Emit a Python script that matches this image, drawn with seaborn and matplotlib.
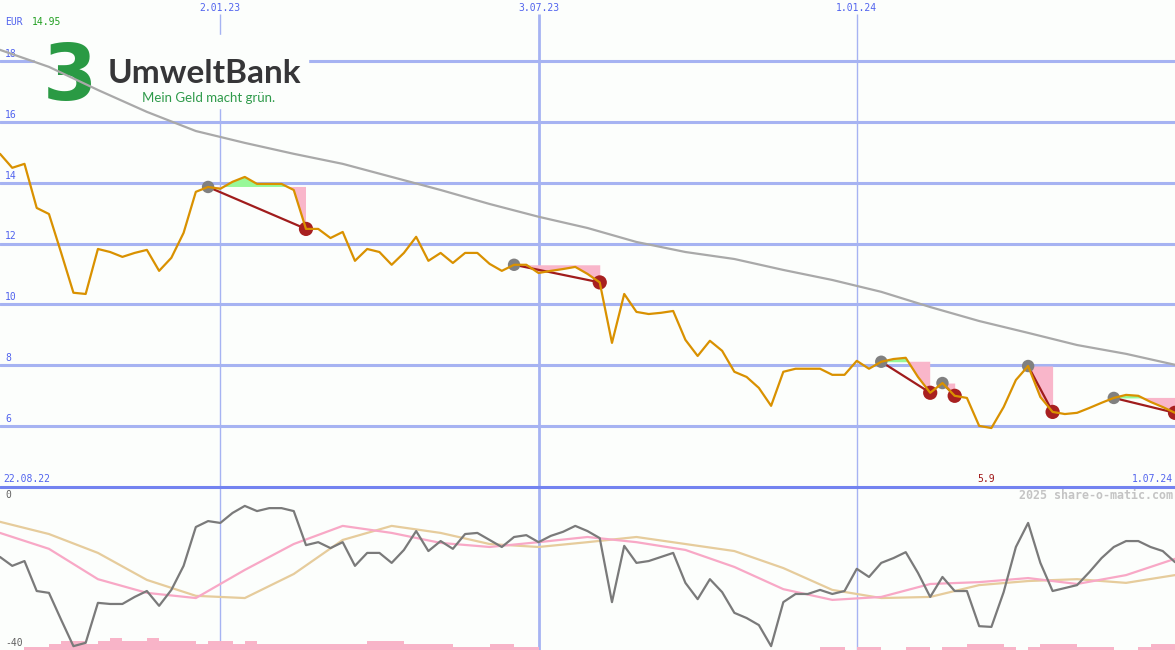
import numpy as np
import matplotlib
matplotlib.use('Agg')
import matplotlib.pyplot as plt
import seaborn as sns
from matplotlib.patches import Rectangle
from matplotlib.lines import Line2D

# weekly closing price (EUR), 22.08.22 .. 1.07.24
price = [14.95, 14.49, 14.62, 13.17, 12.97, 11.69, 10.38, 10.34, 11.82, 11.72,
         11.56, 11.69, 11.79, 11.10, 11.53, 12.35, 13.70, 13.86, 13.80, 14.03,
         14.19, 13.96, 13.96, 13.96, 13.76, 12.48, 12.48, 12.18, 12.38, 11.43,
         11.82, 11.72, 11.30, 11.69, 12.22, 11.43, 11.69, 11.36, 11.69, 11.69,
         11.33, 11.10, 11.30, 11.30, 11.03, 11.10, 11.16, 11.23, 11.00, 10.72,
         8.73, 10.34, 9.75, 9.68, 9.72, 9.78, 8.83, 8.30, 8.80, 8.47,
         7.78, 7.61, 7.25, 6.66, 7.78, 7.88, 7.88, 7.88, 7.68, 7.68,
         8.14, 7.88, 8.11, 8.20, 8.24, 7.61, 7.09, 7.41, 6.99, 6.92,
         6.00, 5.93, 6.62, 7.51, 7.97, 6.95, 6.46, 6.39, 6.43, 6.59,
         6.76, 6.92, 7.02, 6.99, 6.79, 6.62, 6.43]

# long moving average, read every 4 weeks
ma_weeks = list(range(0, 97, 4))
ma_long = [18.37, 17.81, 17.05, 16.33, 15.70, 15.31, 14.95, 14.62, 14.19, 13.76,
           13.30, 12.88, 12.51, 12.05, 11.72, 11.49, 11.13, 10.80, 10.41, 9.91,
           9.45, 9.06, 8.66, 8.37, 8.01]

# lower panel: momentum and its two smoothings
momentum = [-15.4, -17.8, -16.5, -24.6, -25.1, -32.4, -39.5, -38.6, -27.8, -28.1,
            -28.1, -26.2, -24.6, -28.6, -24.3, -17.8, -7.3, -5.7, -6.2, -3.5,
            -1.6, -3.0, -2.2, -2.2, -3.0, -12.2, -11.4, -13.0, -11.4, -17.8,
            -14.3, -14.3, -17.0, -13.5, -8.4, -13.8, -11.1, -13.2, -9.2, -8.9,
            -10.8, -12.7, -10.0, -9.5, -11.4, -9.7, -8.6, -7.0, -8.4, -10.3,
            -27.6, -12.4, -17.0, -16.5, -15.4, -14.3, -22.4, -26.8, -21.4, -24.9,
            -30.5, -31.9, -33.8, -39.5, -27.6, -25.4, -25.4, -24.3, -25.4, -24.6,
            -18.6, -20.8, -17.0, -15.7, -14.1, -19.7, -26.2, -20.8, -24.6, -24.6,
            -34.1, -34.3, -24.9, -12.7, -6.2, -17.0, -24.6, -23.8, -23.0, -19.5,
            -15.7, -12.7, -11.1, -11.1, -12.7, -13.8, -16.8]
osc_weeks = list(range(0, 97, 4))
osc_fast = [-8.9, -13.2, -21.4, -25.1, -26.5, -18.9, -11.9, -7.0, -8.9, -11.6,
            -12.7, -11.4, -10.0, -11.4, -13.5, -18.1, -24.1, -27.0, -26.2, -22.7,
            -22.2, -21.1, -22.7, -20.3, -15.9]
osc_slow = [-5.9, -9.2, -14.3, -21.6, -25.9, -26.5, -20.0, -10.8, -7.0, -8.9,
            -11.9, -12.7, -11.4, -10.0, -11.9, -13.8, -18.4, -24.3, -26.5, -26.2,
            -23.0, -21.9, -21.4, -22.4, -20.3]
volume_level = [0, 0, 1, 1, 2, 3, 3, 2, 3, 4,
                3, 3, 4, 3, 3, 3, 2, 3, 3, 2,
                3, 2, 2, 2, 2, 2, 2, 2, 2, 2,
                3, 3, 3, 2, 2, 2, 2, 1, 1, 1,
                2, 2, 1, 1, 0, 0, 0, 0, 0, 0,
                0, 0, 0, 0, 0, 0, 0, 0, 0, 0,
                0, 0, 0, 0, 0, 0, 0, 1, 1, 0,
                1, 1, 0, 0, 1, 1, 0, 1, 1, 2,
                2, 2, 1, 0, 1, 2, 2, 2, 1, 1,
                1, 0, 0, 1, 2, 2, 0]

# signals (week index of buy / sell)
entry_idx = [17, 42, 72, 77, 84, 91]
exit_idx = [25, 49, 76, 78, 86, 96]

grid_levels = [6, 8, 10, 12, 14, 16, 18]
date_pos = [18, 44, 70]
date_labels = ['2.01.23', '3.07.23', '1.01.24']
start_label = '22.08.22'
end_label = '1.07.24'
min_label = '5.9'
last_label = '14.95'

week = np.arange(len(price))
price = np.array(price)

bg = '#fcfefc'
blue = '#5163ee'
grid_c = '#a6b3f2'
mono = 'DejaVu Sans Mono'

sns.set_style('white')
fig = plt.figure(figsize=(11.75, 6.5), dpi=100, facecolor=bg)
ax = fig.add_axes([0, 163 / 650, 1, 487 / 650])
axb = fig.add_axes([0, 0, 1, 163 / 650])

for a in (ax, axb):
    a.set_facecolor(bg)
    a.set_xticks([])
    a.set_yticks([])
    a.set_xlim(0, 96)
    for s in a.spines.values():
        s.set_visible(False)
ax.set_ylim(3.99, 20.01)
axb.set_ylim(-40.54, 3.51)

# separator between the panels
fig.add_artist(Line2D([0, 1], [163 / 650, 163 / 650], color='#7383f0', lw=2.2, zorder=5))

# grid
for lv in grid_levels:
    ax.axhline(lv, color=grid_c, lw=2.2, zorder=1)
    ax.text(0.4, lv + 0.07, str(lv), color=blue, fontsize=7, family=mono,
            va='bottom', ha='left', zorder=1)
for xp, lab, lw in zip(date_pos, date_labels, [1, 2, 1]):
    ax.vlines(xp, 3.99, 19.55, colors=grid_c, lw=lw, zorder=1)
    axb.axvline(xp, color=grid_c, lw=lw, zorder=1)
    ax.text(xp, 19.75, lab, color=blue, fontsize=7, family=mono, ha='center', va='center')

# logo
ax.add_patch(Rectangle((35 / 1175, 1 - 108 / 487), 273 / 1175, 73 / 487,
                       transform=ax.transAxes, color=bg, zorder=1.5))
ax.text(43 / 1175, 1 - 100 / 487, '3', transform=ax.transAxes, color='#2a9a44',
        fontsize=56, fontweight='bold', family='DejaVu Sans', va='baseline', zorder=1.6)
ax.text(108 / 1175, 1 - 83 / 487, 'UmweltBank', transform=ax.transAxes, color='#363638',
        fontsize=24, fontweight='bold', family='Lato', va='baseline', zorder=1.6)
ax.text(142 / 1175, 1 - 102 / 487, 'Mein Geld macht grün.', transform=ax.transAxes,
        color='#2e9a4a', fontsize=9.5, family='Lato', va='baseline', zorder=1.6)

# trade areas
for ie, ix in zip(entry_idx, exit_idx):
    xs = week[ie:ix + 1]
    ys = price[ie:ix + 1]
    lvl = price[ie]
    ax.fill_between(xs, ys, lvl, where=ys >= lvl, interpolate=True,
                    color='#98f898', lw=0, zorder=2)
    ax.fill_between(xs, ys, lvl, where=ys <= lvl, interpolate=True,
                    color='#f9b6ca', lw=0, zorder=2)
    ax.plot([ie, ix], [price[ie], price[ix]], color='#a01c1c', lw=1.6, zorder=3)

sns.scatterplot(x=entry_idx, y=price[entry_idx], color='#808080', s=80,
                edgecolor='none', ax=ax, zorder=4)
sns.scatterplot(x=exit_idx, y=price[exit_idx], color='#a82020', s=105,
                edgecolor='none', ax=ax, zorder=4)

sns.lineplot(x=week, y=price, color='#d99100', lw=1.6, ax=ax, zorder=5)
sns.lineplot(x=ma_weeks, y=ma_long, color='#a9a9a9', lw=1.6, ax=ax, zorder=6)

# texts in top panel
ax.text(0.4, 19.29, 'EUR', color=blue, fontsize=7, family=mono, va='center')
ax.text(2.6, 19.29, last_label, color='#22a022', fontsize=7, family=mono, va='center')
ax.text(0.25, 4.25, start_label, color=blue, fontsize=7, family=mono, va='center')
ax.text(95.8, 4.25, end_label, color=blue, fontsize=7, family=mono, va='center', ha='right')
ax.text(80.6, 4.25, min_label, color='#a01818', fontsize=7, family=mono,
        va='center', ha='center')

# lower panel
axb.bar(week, np.array(volume_level) * 0.82, bottom=-40.54, width=1, align='edge',
        color='#f8b4c8', lw=0, zorder=2)
sns.lineplot(x=osc_weeks, y=osc_slow, color='#e6cc9c', lw=1.6, ax=axb, zorder=3)
sns.lineplot(x=osc_weeks, y=osc_fast, color='#f8a8c6', lw=1.6, ax=axb, zorder=3)
sns.lineplot(x=week, y=momentum, color='#7a7a7a', lw=1.6, ax=axb, zorder=4)
axb.text(0.4, 0, '0', color='#606060', fontsize=7, family=mono, va='bottom')
axb.text(0.4, -40, '-40', color='#606060', fontsize=7, family=mono, va='bottom')
axb.text(95.8, 1.08, '2025 share-o-matic.com', color='#c4c4c4', fontsize=8.4,
         fontweight='bold', family=mono, ha='right', va='center')
axb.set_xlim(0, 96)
ax.set_xlim(0, 96)
for a in (ax, axb):
    a.set_xlabel('')
    a.set_ylabel('')

fig.savefig('out.png', dpi=100, facecolor=bg)
